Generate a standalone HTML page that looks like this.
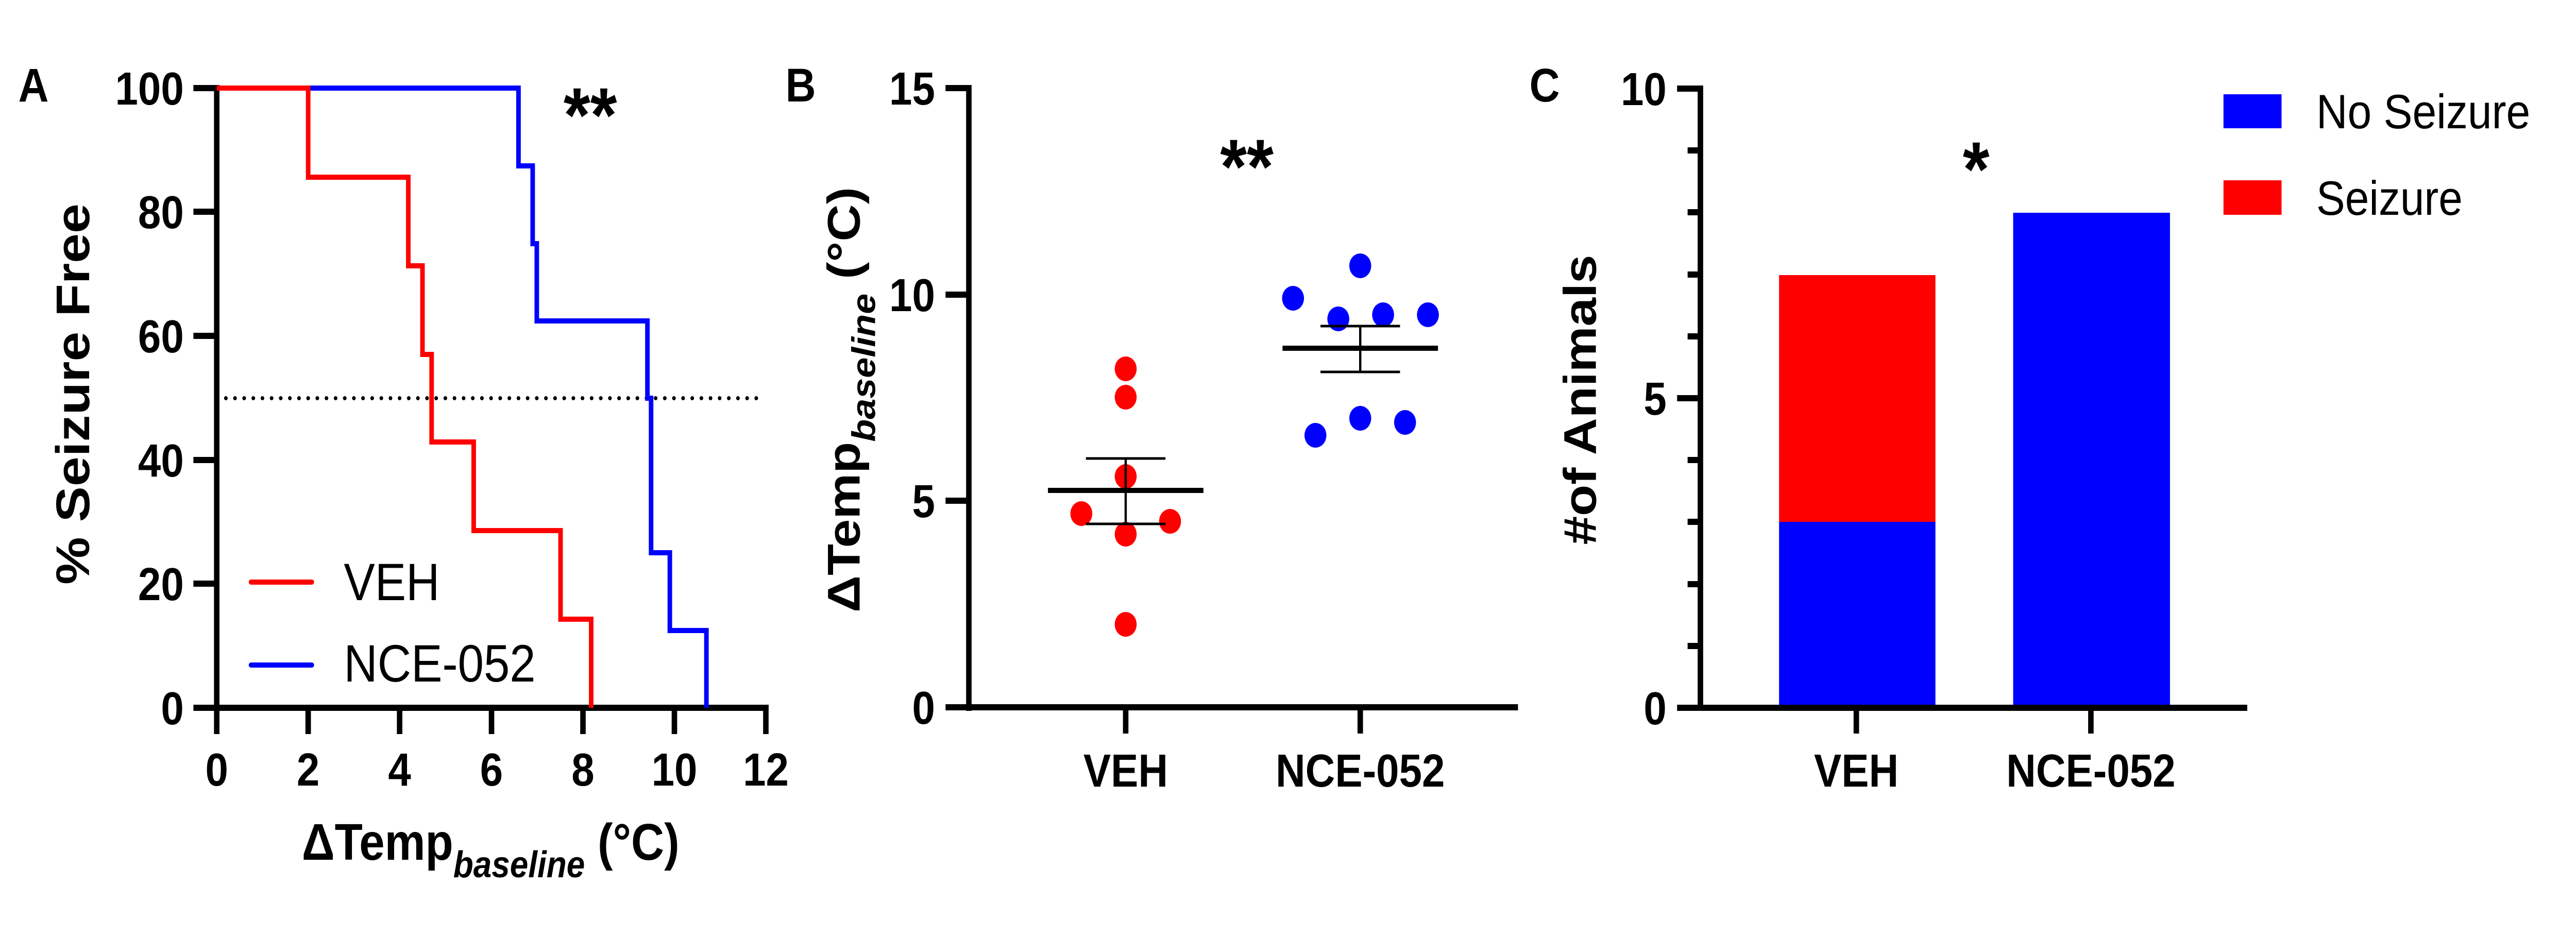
<!DOCTYPE html>
<html><head><meta charset="utf-8"><style>html,body{margin:0;padding:0;background:#fff;width:100%;height:100%;overflow:hidden}svg{display:block;width:100vw;height:100vh}</style></head>
<body>
<svg viewBox="0 0 5634 1817" preserveAspectRatio="none" xmlns="http://www.w3.org/2000/svg" font-family="Liberation Sans, Arial, sans-serif">
<rect width="5634" height="1817" fill="#fff"/>
<!-- Panel A -->
<text x="40" y="197" font-size="92" font-weight="bold">A</text>
<g stroke="#000" stroke-width="12" fill="none">
<line x1="474" y1="165" x2="474" y2="1425"/>
<line x1="423" y1="1374" x2="1681" y2="1374"/>
<line x1="423" y1="171" x2="474" y2="171"/>
<line x1="423" y1="411" x2="474" y2="411"/>
<line x1="423" y1="652" x2="474" y2="652"/>
<line x1="423" y1="893" x2="474" y2="893"/>
<line x1="423" y1="1133" x2="474" y2="1133"/>
<line x1="674" y1="1374" x2="674" y2="1425"/>
<line x1="874" y1="1374" x2="874" y2="1425"/>
<line x1="1075" y1="1374" x2="1075" y2="1425"/>
<line x1="1275" y1="1374" x2="1275" y2="1425"/>
<line x1="1475" y1="1374" x2="1475" y2="1425"/>
<line x1="1675" y1="1368" x2="1675" y2="1425"/>
</g>
<g font-size="90" font-weight="bold" text-anchor="end">
<text x="402" y="203">100</text><text x="402" y="443">80</text><text x="402" y="684">60</text>
<text x="402" y="925">40</text><text x="402" y="1165">20</text><text x="402" y="1406">0</text>
</g>
<g font-size="90" font-weight="bold" text-anchor="middle">
<text x="474" y="1525">0</text><text x="674" y="1525">2</text><text x="874" y="1525">4</text>
<text x="1075" y="1525">6</text><text x="1275" y="1525">8</text><text x="1475" y="1525">10</text><text x="1675" y="1525">12</text>
</g>
<line x1="494" y1="773" x2="1662" y2="773" stroke="#000" stroke-width="8" stroke-dasharray="0 20" stroke-linecap="round"/>
<path d="M474,171 H1134 V322 H1165 V473 H1174 V623 H1416 V773 H1424 V1073 H1465 V1224 H1545 V1374" stroke="#0000ff" stroke-width="10" fill="none"/>
<path d="M474,171 H674 V344 H893 V516 H924 V688 H944 V858 H1036 V1030 H1226 V1202 H1293 V1374" stroke="#ff0000" stroke-width="10" fill="none"/>
<text x="1291" y="275" font-size="150" font-weight="bold" text-anchor="middle">**</text>
<line x1="549" y1="1130" x2="682" y2="1130" stroke="#ff0000" stroke-width="10" stroke-linecap="round"/>
<line x1="549" y1="1291" x2="682" y2="1291" stroke="#0000ff" stroke-width="10" stroke-linecap="round"/>
<text x="752" y="1165" font-size="102">VEH</text>
<text x="752" y="1323" font-size="102">NCE-052</text>
<text transform="translate(195,765) rotate(-90)" font-size="104" font-weight="bold" text-anchor="middle">% Seizure Free</text>
<text x="1073" y="1669" font-size="100" font-weight="bold" text-anchor="middle">ΔTemp<tspan font-size="72" font-style="italic" dy="34">baseline</tspan><tspan dy="-34"> (°C)</tspan></text>

<!-- Panel B -->
<text x="1718" y="197" font-size="92" font-weight="bold">B</text>
<g stroke="#000" stroke-width="12" fill="none">
<line x1="2119" y1="165" x2="2119" y2="1380"/>
<line x1="2068" y1="1373" x2="3320" y2="1373"/>
<line x1="2068" y1="171" x2="2119" y2="171"/>
<line x1="2068" y1="572" x2="2119" y2="572"/>
<line x1="2068" y1="972" x2="2119" y2="972"/>
<line x1="2462" y1="1373" x2="2462" y2="1424"/>
<line x1="2975" y1="1373" x2="2975" y2="1424"/>
</g>
<g font-size="90" font-weight="bold" text-anchor="end">
<text x="2045" y="203">15</text><text x="2045" y="604">10</text><text x="2045" y="1004">5</text><text x="2045" y="1405">0</text>
</g>
<g font-size="90" font-weight="bold" text-anchor="middle">
<text x="2462" y="1527">VEH</text><text x="2975" y="1527">NCE-052</text>
</g>
<text x="2727" y="375" font-size="150" font-weight="bold" text-anchor="middle">**</text>
<g fill="#ff0000">
<circle cx="2462" cy="716" r="24"/><circle cx="2462" cy="771" r="24"/><circle cx="2462" cy="925" r="24"/>
<circle cx="2365" cy="997" r="24"/><circle cx="2559" cy="1012" r="24"/><circle cx="2462" cy="1037" r="24"/>
<circle cx="2462" cy="1212" r="24"/>
</g>
<g fill="#0000ff">
<circle cx="2828" cy="579" r="24"/><circle cx="2975" cy="516" r="24"/><circle cx="2927" cy="619" r="24"/>
<circle cx="3025" cy="611" r="24"/><circle cx="3123" cy="611" r="24"/><circle cx="2877" cy="845" r="24"/>
<circle cx="2975" cy="812" r="24"/><circle cx="3073" cy="820" r="24"/>
</g>
<g stroke="#000" fill="none">
<line x1="2292" y1="952" x2="2632" y2="952" stroke-width="10"/>
<line x1="2462" y1="890" x2="2462" y2="1017" stroke-width="5"/>
<line x1="2375" y1="890" x2="2549" y2="890" stroke-width="5"/>
<line x1="2375" y1="1017" x2="2549" y2="1017" stroke-width="5"/>
<line x1="2805" y1="676" x2="3145" y2="676" stroke-width="10"/>
<line x1="2975" y1="633" x2="2975" y2="722" stroke-width="5"/>
<line x1="2888" y1="633" x2="3062" y2="633" stroke-width="5"/>
<line x1="2888" y1="722" x2="3062" y2="722" stroke-width="5"/>
</g>
<text transform="translate(1880,776) rotate(-90)" font-size="100" font-weight="bold" text-anchor="middle">ΔTemp<tspan font-size="72" font-style="italic" dy="34">baseline</tspan><tspan dy="-34"> (°C)</tspan></text>

<!-- Panel C -->
<text x="3345" y="197" font-size="92" font-weight="bold">C</text>
<rect x="3891" y="1013" width="342" height="361" fill="#0000ff"/>
<rect x="3891" y="534" width="342" height="479" fill="#ff0000"/>
<rect x="4403" y="413" width="343" height="961" fill="#0000ff"/>
<g stroke="#000" stroke-width="12" fill="none">
<line x1="3719" y1="166" x2="3719" y2="1380"/>
<line x1="3668" y1="1374" x2="4915" y2="1374"/>
<line x1="3668" y1="172" x2="3719" y2="172"/>
<line x1="3668" y1="773" x2="3719" y2="773"/>
<line x1="3691" y1="292" x2="3719" y2="292"/>
<line x1="3691" y1="412" x2="3719" y2="412"/>
<line x1="3691" y1="533" x2="3719" y2="533"/>
<line x1="3691" y1="653" x2="3719" y2="653"/>
<line x1="3691" y1="893" x2="3719" y2="893"/>
<line x1="3691" y1="1013" x2="3719" y2="1013"/>
<line x1="3691" y1="1134" x2="3719" y2="1134"/>
<line x1="3691" y1="1254" x2="3719" y2="1254"/>
<line x1="4060" y1="1374" x2="4060" y2="1424"/>
<line x1="4573" y1="1374" x2="4573" y2="1424"/>
</g>
<g font-size="90" font-weight="bold" text-anchor="end">
<text x="3645" y="204">10</text><text x="3645" y="805">5</text><text x="3645" y="1406">0</text>
</g>
<g font-size="90" font-weight="bold" text-anchor="middle">
<text x="4060" y="1527">VEH</text><text x="4573" y="1527">NCE-052</text>
</g>
<text x="4322" y="380" font-size="150" font-weight="bold" text-anchor="middle">*</text>
<text transform="translate(3490,776) rotate(-90)" font-size="100" font-weight="bold" text-anchor="middle">#of Animals</text>
<rect x="4863" y="183" width="127" height="66" fill="#0000ff"/>
<rect x="4863" y="350" width="127" height="67" fill="#ff0000"/>
<text x="5066" y="249" font-size="94" textLength="468" lengthAdjust="spacingAndGlyphs">No Seizure</text>
<text x="5066" y="417" font-size="94" textLength="320" lengthAdjust="spacingAndGlyphs">Seizure</text>
</svg>
</body></html>
